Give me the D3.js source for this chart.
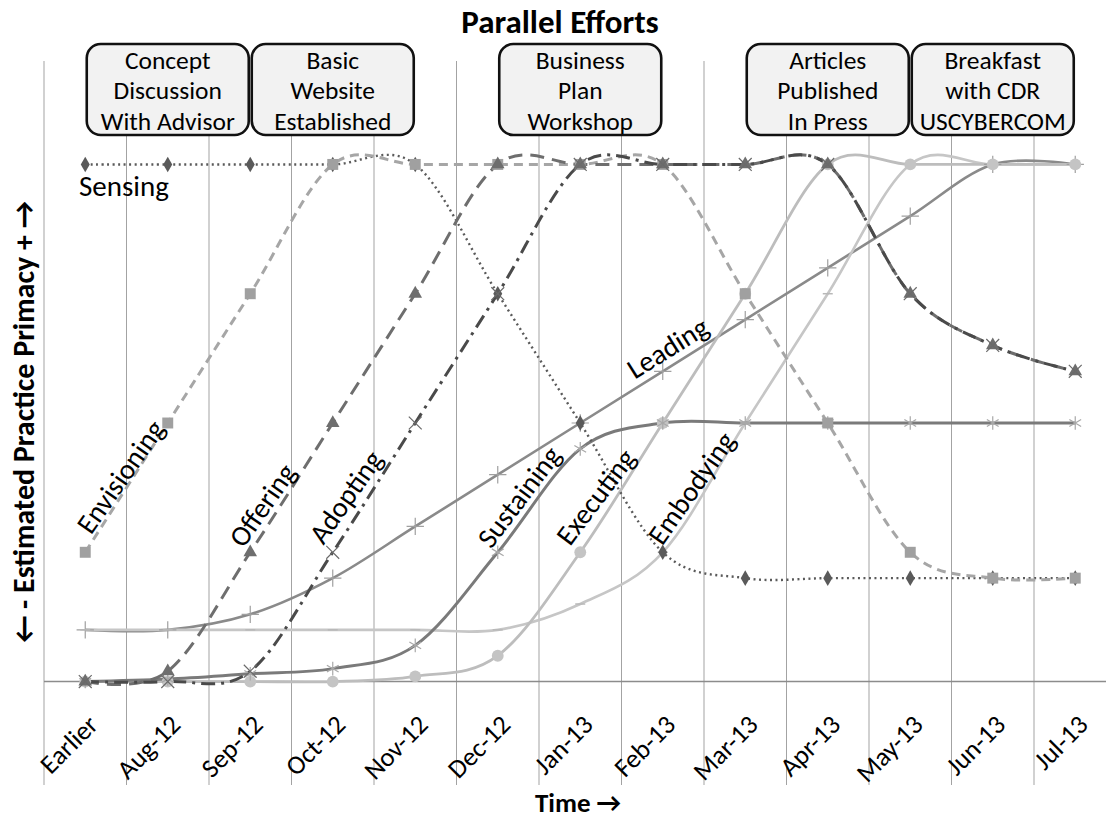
<!DOCTYPE html>
<html><head><meta charset="utf-8">
<script src="https://cdn.jsdelivr.net/npm/d3@7"></script>
<style>
body{margin:0;background:#fff}
svg{display:block}
text{font-family: Calibri, Carlito, Lato, sans-serif; fill:#000}
</style>
</head><body>
<svg id="chart" width="1106" height="820"></svg>
<script>
// ---------------- data ----------------
const categories = ["Earlier","Aug-12","Sep-12","Oct-12","Nov-12","Dec-12","Jan-13","Feb-13","Mar-13","Apr-13","May-13","Jun-13","Jul-13"];
const sensing     = [100,100,100,100,100, 75, 50, 25, 20, 20, 20, 20, 20];
const envisioning = [ 25, 50, 75,100,100,100,100,100, 75, 50, 25, 20, 20];
const offering    = [  0,  2, 25, 50, 75,100,100,100,100,100, 75, 65, 60];
const adopting    = [  0,  0,  2, 25, 50, 75,100,100,100,100, 75, 65, 60];
const leading     = [ 10, 10, 13, 20, 30, 40, 50, 60, 70, 80, 90,100,100];
const sustaining  = [  0,0.5,1.5,2.5,  7, 25, 45, 50, 50, 50, 50, 50, 50];
const executing   = [  0,  0,  0,  0,  1,  5, 25, 50, 75,100,100,100,100];
const embodying   = [ 10, 10, 10, 10, 10, 10, 15, 25, 50, 75,100,100,100];

const milestoneCats  = ["Aug-12","Oct-12","Jan-13","Apr-13","Jun-13"];
const milestoneLines = [
  ["Concept","Discussion","With Advisor"],
  ["Basic","Website","Established"],
  ["Business","Plan","Workshop"],
  ["Articles","Published","In Press"],
  ["Breakfast","with CDR","USCYBERCOM"]
];
const chartTitle = "Parallel Efforts";
const yTitle = "\u2190 - Estimated Practice Primacy + \u2192";
const xTitle = "Time \u2192";

// label anchors in data space (category index, value)
const labelNames = ["Envisioning","Offering","Adopting","Sustaining","Executing","Embodying","Leading"];
const labelIdx   = [0.43, 2.15, 3.16, 5.26, 6.19, 7.35, 7.06];
const labelVal   = [39.6, 34.1, 35.7, 35.7, 35.7, 37.4, 64.5];
const labelAngle = [-55, -55, -55, -53, -53, -55, -32];

// ---------------- layout ----------------
const W = 1106, H = 820;
const plotLeft = 44, step = 82.5;
const plotRight = plotLeft + step * categories.length;
const plotTop = 61, plotBottom = 785;

const svg = d3.select("#chart");

const x = d3.scaleBand().domain(categories).range([plotLeft, plotRight]).padding(0);
const xc = c => x(c) + x.bandwidth() / 2;
const xi = i => x(categories[0]) + x.bandwidth() / 2 + i * x.step();
const y = d3.scaleLinear().domain([-20, 120]).range([plotBottom, plotTop]);

// vertical gridlines at band boundaries
const bounds = categories.map(c => x(c)).concat([plotRight]);
svg.append("g").selectAll("line").data(bounds).join("line")
  .attr("x1", d => d).attr("x2", d => d)
  .attr("y1", y(120)).attr("y2", y(-20))
  .attr("stroke", "#a3a3a3").attr("stroke-width", 1);

// horizontal axis line at zero
svg.append("line")
  .attr("x1", plotLeft).attr("x2", W)
  .attr("y1", y(0)).attr("y2", y(0))
  .attr("stroke", "#8c8c8c").attr("stroke-width", 1.5);

// ---------------- series ----------------
const series = [
  {name:"Leading",     values:leading,     color:"#8a8a8a", width:2.6, dash:null,        marker:"plus",     mcolor:"#a0a0a0"},
  {name:"Embodying",   values:embodying,   color:"#c6c6c6", width:2.6, dash:null,        marker:"dash",     mcolor:"#b8b8b8"},
  {name:"Executing",   values:executing,   color:"#bdbdbd", width:2.8, dash:null,        marker:"circle",   mcolor:"#c4c4c4"},
  {name:"Sustaining",  values:sustaining,  color:"#7a7a7a", width:3,   dash:null,        marker:"asterisk", mcolor:"#a8a8a8"},
  {name:"Sensing",     values:sensing,     color:"#5a5a5a", width:2.4, dash:"2 3.5",     marker:"diamond",  mcolor:"#5a5a5a"},
  {name:"Envisioning", values:envisioning, color:"#a6a6a6", width:3,   dash:"9 6",       marker:"square",   mcolor:"#a0a0a0"},
  {name:"Offering",    values:offering,    color:"#6e6e6e", width:3,   dash:"14 8",      marker:"triangle", mcolor:"#6e6e6e"},
  {name:"Adopting",    values:adopting,    color:"#4a4a4a", width:3,   dash:"14 6 3 6",  marker:"times",    mcolor:"#6a6a6a"}
];

const line = d3.line()
  .x((d, i) => xc(categories[i]))
  .y(d => y(d))
  .curve(d3.curveCardinal.tension(0));

const gLines = svg.append("g");
series.forEach(s => {
  gLines.append("path")
    .attr("d", line(s.values))
    .attr("fill", "none")
    .attr("stroke", s.color)
    .attr("stroke-width", s.width)
    .attr("stroke-dasharray", s.dash)
    .attr("stroke-linejoin", "round");
});

const symFill = {
  diamond: d3.symbol().type(d3.symbolDiamond).size(70),
  square: d3.symbol().type(d3.symbolSquare).size(120),
  triangle: d3.symbol().type(d3.symbolTriangle).size(80),
  circle: d3.symbol().type(d3.symbolCircle).size(110)
};
const symStroke = {
  times: d3.symbol().type(d3.symbolTimes).size(110),
  plus: d3.symbol().type(d3.symbolPlus).size(100),
  asterisk: d3.symbol().type(d3.symbolAsterisk).size(130)
};
const gMarks = svg.append("g");
series.forEach(s => {
  const g = gMarks.append("g");
  s.values.forEach((v, i) => {
    const tx = `translate(${xc(categories[i])},${y(v)})`;
    if (symFill[s.marker]) {
      g.append("path").attr("d", symFill[s.marker]()).attr("transform", tx).attr("fill", s.mcolor);
    } else if (symStroke[s.marker]) {
      g.append("path").attr("d", symStroke[s.marker]()).attr("transform", tx)
        .attr("fill", "none").attr("stroke", s.mcolor).attr("stroke-width", 1.2);
    } else if (s.marker === "dash") {
      g.append("line").attr("transform", tx).attr("x1", -5).attr("x2", 5)
        .attr("stroke", s.mcolor).attr("stroke-width", 1.5);
    }
  });
});

// ---------------- curve labels ----------------
svg.append("text")
  .attr("x", xi(-0.076)).attr("y", y(93.9))
  .attr("font-size", 29).text("Sensing");

svg.append("g").selectAll("text").data(labelNames).join("text")
  .attr("transform", (d, i) => `translate(${xi(labelIdx[i])},${y(labelVal[i])}) rotate(${labelAngle[i]})`)
  .attr("text-anchor", "middle").attr("dominant-baseline", "central")
  .attr("font-size", 28.5).text(d => d);

// ---------------- milestone boxes ----------------
const boxTop = 44, boxH = 91;
const mg = svg.append("g").selectAll("g").data(milestoneCats).join("g");
mg.append("rect")
  .attr("x", d => xc(d) - x.step() + 1.5).attr("y", boxTop)
  .attr("width", x.step() * 2 - 3).attr("height", boxH)
  .attr("rx", 14).attr("ry", 14)
  .attr("fill", "#f2f2f2").attr("stroke", "#111").attr("stroke-width", 2.6);
mg.each(function(d, i) {
  d3.select(this).selectAll("text").data(milestoneLines[i]).join("text")
    .attr("x", xc(d)).attr("y", (t, j) => boxTop + 16 + j * 30.5)
    .attr("text-anchor", "middle").attr("dominant-baseline", "central")
    .attr("font-size", 25.5).text(t => t);
});

// ---------------- axes text ----------------
svg.append("g").selectAll("text").data(categories).join("text")
  .attr("transform", d => `translate(${xc(d) + 8},${720}) rotate(-45)`)
  .attr("text-anchor", "end").attr("dominant-baseline", "central")
  .attr("font-size", 26.5).text(d => d);

svg.append("text")
  .attr("x", 560).attr("y", 22)
  .attr("text-anchor", "middle").attr("dominant-baseline", "central")
  .attr("font-size", 33).attr("font-weight", "bold").text(chartTitle);

svg.append("text")
  .attr("transform", `translate(23,${422}) rotate(-90)`)
  .attr("text-anchor", "middle").attr("dominant-baseline", "central")
  .attr("font-size", 30).attr("font-weight", "bold").text(yTitle);

svg.append("text")
  .attr("x", 578).attr("y", 802)
  .attr("text-anchor", "middle").attr("dominant-baseline", "central")
  .attr("font-size", 27).attr("font-weight", "bold").text(xTitle);
</script>
</body></html>
